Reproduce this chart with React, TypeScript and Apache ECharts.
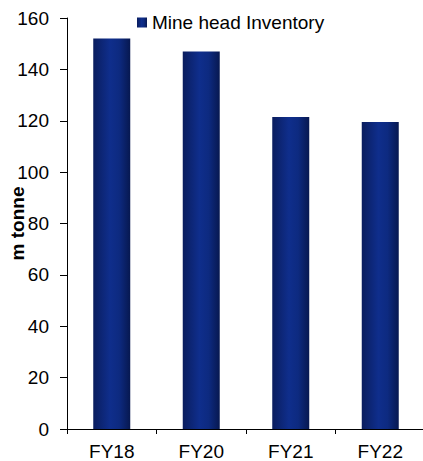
import React, { useEffect, useRef } from "react";
import * as echarts from "echarts";

const categories = ["FY18", "FY20", "FY21", "FY22"];
const inventory = [152, 147, 121.5, 119.5];
const seriesName = "Mine head Inventory";
const yAxisName = "m tonne";

export default function App() {
  const ref = useRef<HTMLDivElement>(null);
  useEffect(() => {
    if (!ref.current) return;
    const chart = echarts.init(ref.current, null, { renderer: "svg" });
    const grad = new echarts.graphic.LinearGradient(0, 0, 1, 0, [
      { offset: 0, color: "#0a1d5e" },
      { offset: 0.45, color: "#0f2e8c" },
      { offset: 0.7, color: "#0d2a80" },
      { offset: 1, color: "#071850" },
    ]);
    const font = "'Liberation Sans', Arial, sans-serif";
    chart.setOption({
      animation: false,
      textStyle: { fontFamily: font },
      legend: {
        data: [seriesName],
        left: 137,
        top: 13,
        padding: 0,
        itemWidth: 10,
        itemHeight: 10,
        itemGap: 10,
        icon: "rect",
        textStyle: { fontSize: 19, color: "#000", fontFamily: font },
      },
      grid: { left: 67, top: 18, height: 411, width: 358, containLabel: false, outerBoundsMode: "none" },
      xAxis: {
        type: "category",
        data: categories,
        axisLine: { show: true, lineStyle: { color: "#000", width: 1 } },
        axisTick: { show: true, length: 5, lineStyle: { color: "#000" } },
        axisLabel: { fontSize: 19, color: "#000", margin: 13, fontFamily: font },
      },
      yAxis: {
        type: "value",
        min: 0,
        max: 160,
        interval: 20,
        name: yAxisName,
        nameLocation: "middle",
        nameGap: 40,
        nameMoveOverlap: false,
        nameTextStyle: { fontSize: 19, fontWeight: "bold", color: "#000", fontFamily: font },
        splitLine: { show: false },
        axisLine: { show: true, lineStyle: { color: "#000", width: 1 } },
        axisTick: { show: true, length: 7, lineStyle: { color: "#000" } },
        axisLabel: { fontSize: 19, color: "#000", margin: 18, fontFamily: font },
      },
      series: [
        {
          name: seriesName,
          type: "bar",
          data: inventory,
          barWidth: 37,
          itemStyle: { color: grad },
        },
      ],
    });
    return () => chart.dispose();
  }, []);
  return <div ref={ref} style={{ width: 423, height: 461, position: "absolute", left: 0, top: 0 }} />;
}
